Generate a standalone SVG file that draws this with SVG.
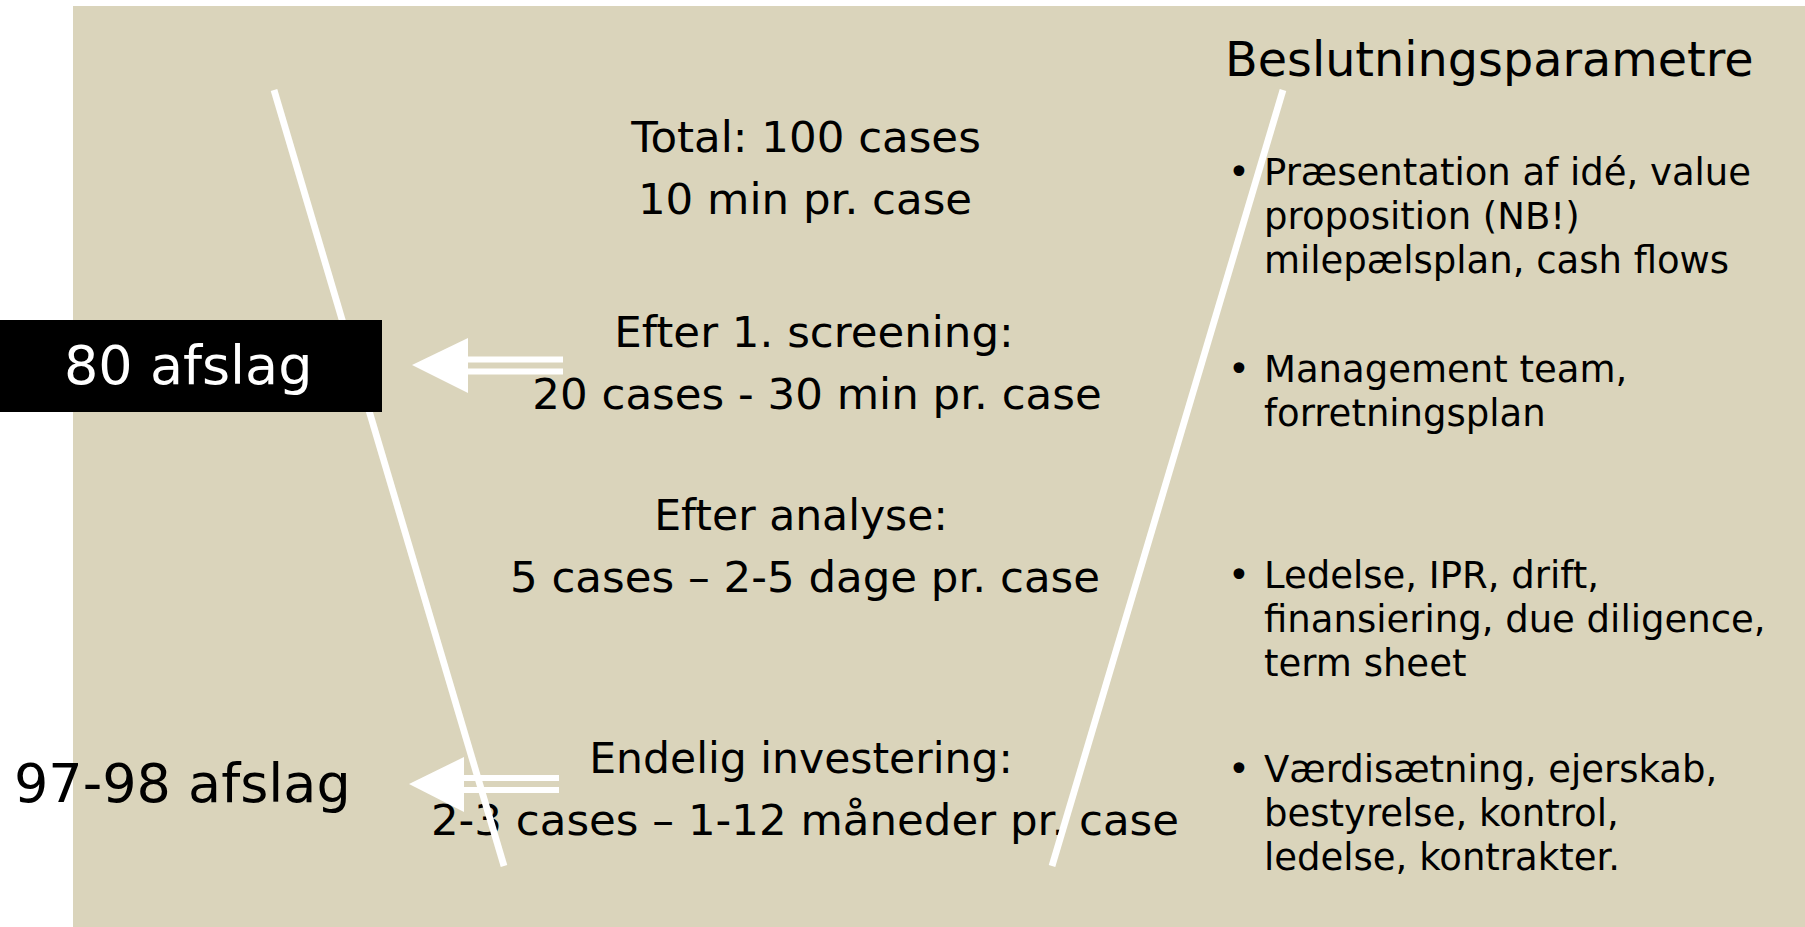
<svg xmlns="http://www.w3.org/2000/svg" width="1805" height="927" viewBox="0 0 1805 927">
  <style>
    .c { font-family: "DejaVu Sans", Verdana, sans-serif; font-size: 43.5px; fill: #000; text-anchor: middle; }
    .r { font-family: "DejaVu Sans", Verdana, sans-serif; font-size: 37px; fill: #000; }
    .big { font-family: "DejaVu Sans", Verdana, sans-serif; font-size: 54px; }
    .funnel { stroke: #fff; stroke-width: 6.8; fill: none; }
    .arrow { fill: #fff; }
  </style>
  <rect id="background" x="73" y="6" width="1732" height="921" fill="#DAD4BB"/>

  <g id="stage-total">
    <text class="c" x="806" y="152">Total: 100 cases</text>
    <text class="c" x="805" y="214">10 min pr. case</text>
  </g>
  <g id="stage-screening">
    <text class="c" x="814" y="347">Efter 1. screening:</text>
    <text class="c" x="817" y="409">20 cases - 30 min pr. case</text>
  </g>
  <g id="stage-analyse">
    <text class="c" x="801" y="530" style="font-size:42.5px">Efter analyse:</text>
    <text class="c" x="805" y="592">5 cases – 2-5 dage pr. case</text>
  </g>
  <g id="stage-investering">
    <text class="c" x="801" y="773" style="font-size:42.5px">Endelig investering:</text>
    <text class="c" x="805" y="835">2-3 cases – 1-12 måneder pr. case</text>
  </g>

  <g id="parametre">
    <text class="big" x="1225" y="76" style="font-size:47.7px">Beslutningsparametre</text>
    <g id="param-1">
      <text class="r" x="1228" y="185">•</text>
      <text class="r" x="1264" y="185">Præsentation af idé, value</text>
      <text class="r" x="1264" y="229">proposition (NB!)</text>
      <text class="r" x="1264" y="273">milepælsplan, cash flows</text>
    </g>
    <g id="param-2">
      <text class="r" x="1228" y="382">•</text>
      <text class="r" x="1264" y="382">Management team,</text>
      <text class="r" x="1264" y="426">forretningsplan</text>
    </g>
    <g id="param-3">
      <text class="r" x="1228" y="588">•</text>
      <text class="r" x="1264" y="588">Ledelse, IPR, drift,</text>
      <text class="r" x="1264" y="632">finansiering, due diligence,</text>
      <text class="r" x="1264" y="676">term sheet</text>
    </g>
    <g id="param-4">
      <text class="r" x="1228" y="782">•</text>
      <text class="r" x="1264" y="782">Værdisætning, ejerskab,</text>
      <text class="r" x="1264" y="826">bestyrelse, kontrol,</text>
      <text class="r" x="1264" y="870">ledelse, kontrakter.</text>
    </g>
  </g>

  <g id="funnel">
    <line class="funnel" x1="274" y1="90" x2="504" y2="866"/>
    <line class="funnel" x1="1283" y1="90" x2="1052" y2="866"/>
  </g>

  <g id="afslag-80">
    <rect x="0" y="320" width="382" height="92" fill="#000"/>
    <text class="big" x="64" y="384" fill="#fff">80 afslag</text>
  </g>
  <g id="afslag-97">
    <text class="big" x="14" y="802" fill="#000">97-98 afslag</text>
  </g>

  <g id="connectors">
    <g id="arrow-1">
      <polygon class="arrow" points="412,365 468,338 468,393"/>
      <rect class="arrow" x="467" y="356.5" width="96" height="6"/>
      <rect class="arrow" x="467" y="368.5" width="96" height="6"/>
    </g>
    <g id="arrow-2">
      <polygon class="arrow" points="409,784 464,757 464,812"/>
      <rect class="arrow" x="463" y="775" width="96" height="6"/>
      <rect class="arrow" x="463" y="787" width="96" height="6"/>
    </g>
  </g>
</svg>
